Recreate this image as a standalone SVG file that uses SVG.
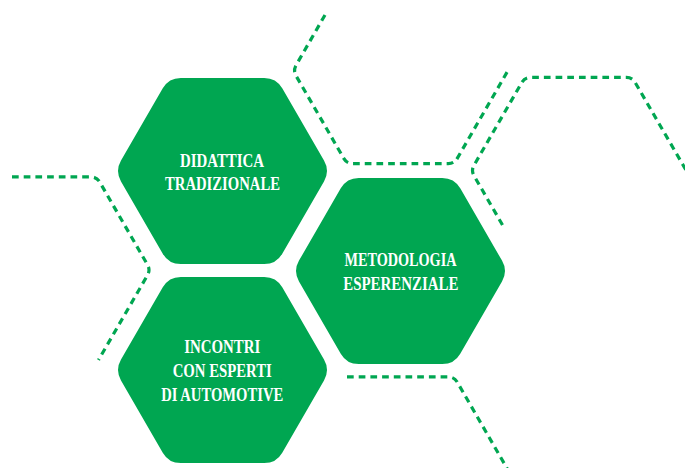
<svg xmlns="http://www.w3.org/2000/svg" xmlns:xlink="http://www.w3.org/1999/xlink" width="685" height="468" viewBox="0 0 685 468">
  <style>
    .hex { fill: #00A651; }
    .lbl { fill: #FFFFFF; font-family: "Liberation Serif", "DejaVu Serif", serif; font-weight: bold; font-size: 18.5px; text-anchor: middle; }
    .dash { fill: none; stroke: #00A651; stroke-width: 3.2; stroke-dasharray: 6.7 5; stroke-linejoin: round; }
  </style>
  <defs>
    <path id="hex" d="M -101.5 10.39 Q -107.5 0 -101.5 -10.39 L -59.75 -82.71 Q -53.75 -93.1 -41.75 -93.1 L 41.75 -93.1 Q 53.75 -93.1 59.75 -82.71 L 101.5 -10.39 Q 107.5 0 101.5 10.39 L 59.75 82.71 Q 53.75 93.1 41.75 93.1 L -41.75 93.1 Q -53.75 93.1 -59.75 82.71 Z"/>
  </defs>
  <rect width="685" height="468" fill="#FFFFFF"/>
  <g id="connectors">
    <path class="dash" d="M 325 15 L 296 65.3 Q 293 70.5 296 75.7 L 343.75 158.4 Q 346.75 163.6 352.75 163.6 L 448.25 163.6 Q 454.25 163.6 457.25 158.4 L 508 70.5"/>
    <path class="dash" d="M 502.5 225 L 474 175.7 Q 471 170.5 474 165.3 L 521.75 82.6 Q 524.75 77.4 530.75 77.4 L 626.25 77.4 Q 632.25 77.4 635.25 82.6 L 690 177"/>
    <path class="dash" d="M 12 176.9 L 90.75 176.9 Q 96.75 176.9 99.75 182.1 L 147.5 264.8 Q 150.5 270 147.5 275.2 L 98.5 360"/>
    <path class="dash" d="M 347 376.9 L 448.25 376.9 Q 454.25 376.9 457.25 382.1 L 512 477"/>
  </g>
  <g id="node-didattica" transform="translate(222.5,171)">
    <use xlink:href="#hex" class="hex"/>
    <text class="lbl" x="-0.5" y="-4.3" textLength="84" lengthAdjust="spacingAndGlyphs">DIDATTICA</text>
    <text class="lbl" x="0" y="19" textLength="115" lengthAdjust="spacingAndGlyphs">TRADIZIONALE</text>
  </g>
  <g id="node-metodologia" transform="translate(400.5,271)">
    <use xlink:href="#hex" class="hex"/>
    <text class="lbl" x="0" y="-5" textLength="112" lengthAdjust="spacingAndGlyphs">METODOLOGIA</text>
    <text class="lbl" x="0.3" y="19" textLength="115" lengthAdjust="spacingAndGlyphs">ESPERENZIALE</text>
  </g>
  <g id="node-incontri" transform="translate(222.5,370)">
    <use xlink:href="#hex" class="hex"/>
    <text class="lbl" x="-0.3" y="-17.3" textLength="76" lengthAdjust="spacingAndGlyphs">INCONTRI</text>
    <text class="lbl" x="-0.3" y="6.7" textLength="99" lengthAdjust="spacingAndGlyphs">CON ESPERTI</text>
    <text class="lbl" x="-0.3" y="30.7" textLength="122" lengthAdjust="spacingAndGlyphs">DI AUTOMOTIVE</text>
  </g>
</svg>
